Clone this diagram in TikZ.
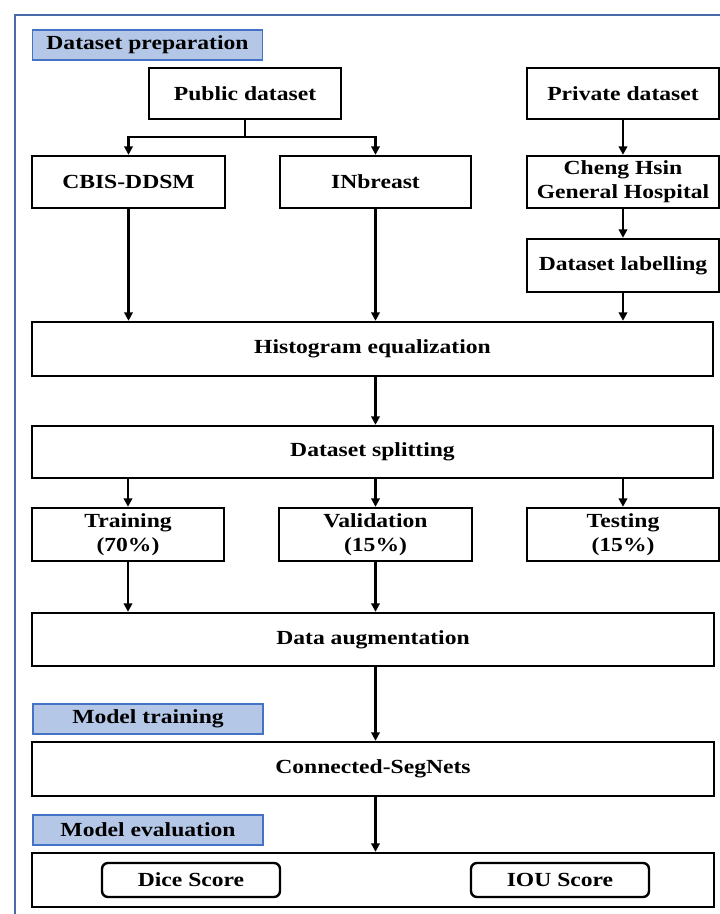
\documentclass[tikz,border=0pt]{standalone}
\usepackage{fontspec}
\setmainfont{Liberation Serif}[FakeStretch=1.18]
\usetikzlibrary{arrows.meta}
\definecolor{frameblue}{HTML}{4A6BAA}
\definecolor{lblfill}{HTML}{B4C7E7}
\definecolor{lbldraw}{HTML}{4472C4}
\tikzset{
  box/.style={draw=black, line width=2.4pt, fill=white, inner sep=0pt, align=center,
    font=\fontsize{20}{24}\selectfont\bfseries},
  lbl/.style={draw=lbldraw, line width=1.2pt, fill=lblfill, inner sep=0pt,
    minimum width=230pt, minimum height=30pt, font=\fontsize{20}{24}\selectfont\bfseries},
  rbox/.style={box, rounded corners=6pt, minimum width=178pt, minimum height=34pt},
  arr/.style={draw=black, line width=2.2pt, -{Triangle[length=8.5pt,width=8.5pt]}},
}
\begin{document}
\begin{tikzpicture}[x=1pt,y=-1pt]
\useasboundingbox (0,0) rectangle (720,914);
\clip (0,0) rectangle (720,914);
\fill[white] (0,0) rectangle (720,914);
\draw[frameblue, line width=2.8pt] (15,15) rectangle (740,940);

\node[lbl] (lprep) at (147.5,45) {Dataset preparation};
\node[box, minimum width=192pt, minimum height=51pt] (pub) at (245,93.5) {Public dataset};
\node[box, minimum width=192pt, minimum height=51pt] (priv) at (623,93.5) {Private dataset};
\node[box, minimum width=193pt, minimum height=52pt] (cbis) at (128.5,182) {CBIS-DDSM};
\node[box, minimum width=191pt, minimum height=52pt] (inb) at (375.5,182) {INbreast};
\node[box, minimum width=192pt, minimum height=52pt] (cheng) at (623,182) {Cheng Hsin\\General Hospital};
\node[box, minimum width=192pt, minimum height=53pt] (lab) at (623,265.5) {Dataset labelling};
\node[box, minimum width=681pt, minimum height=54pt] (hist) at (372.5,349) {Histogram equalization};
\node[box, minimum width=681pt, minimum height=52pt] (split) at (372.5,452) {Dataset splitting};
\node[box, minimum width=192pt, minimum height=53pt] (train) at (128,534.5) {Training\\(70\%)};
\node[box, minimum width=193pt, minimum height=53pt] (val) at (375.5,534.5) {Validation\\(15\%)};
\node[box, minimum width=192pt, minimum height=53pt] (test) at (623,534.5) {Testing\\(15\%)};
\node[box, minimum width=682pt, minimum height=53pt] (aug) at (373,639.5) {Data augmentation};
\node[lbl] (ltrain) at (148,719) {Model training};
\node[box, minimum width=682pt, minimum height=54pt] (seg) at (373,769) {Connected-SegNets};
\node[lbl] (leval) at (148,830) {Model evaluation};
\node[box, minimum width=682pt, minimum height=54pt] (evalb) at (373,880) {};
\node[rbox] (dice) at (191,880) {Dice Score};
\node[rbox] (iou) at (560,880) {IOU Score};

\coordinate (br) at (245,137);
\draw[line width=2.2pt] (pub.south) -- (br);
\draw[arr] (br) -| (cbis.north);
\draw[arr] (br) -| (inb.north);
\draw[arr] (priv.south) -- (cheng.north);
\draw[arr] (cheng.south) -- (lab.north);
\draw[arr] (cbis.south) -- (cbis.south |- hist.north);
\draw[arr] (inb.south) -- (inb.south |- hist.north);
\draw[arr] (lab.south) -- (lab.south |- hist.north);
\draw[arr] (hist.south -| inb.south) -- (split.north -| inb.south);
\draw[arr] (split.south -| train.north) -- (train.north);
\draw[arr] (split.south -| val.north) -- (val.north);
\draw[arr] (split.south -| test.north) -- (test.north);
\draw[arr] (train.south) -- (train.south |- aug.north);
\draw[arr] (val.south) -- (val.south |- aug.north);
\draw[arr] (aug.south -| val.south) -- (seg.north -| val.south);
\draw[arr] (seg.south -| val.south) -- (evalb.north -| val.south);
\end{tikzpicture}
\end{document}
